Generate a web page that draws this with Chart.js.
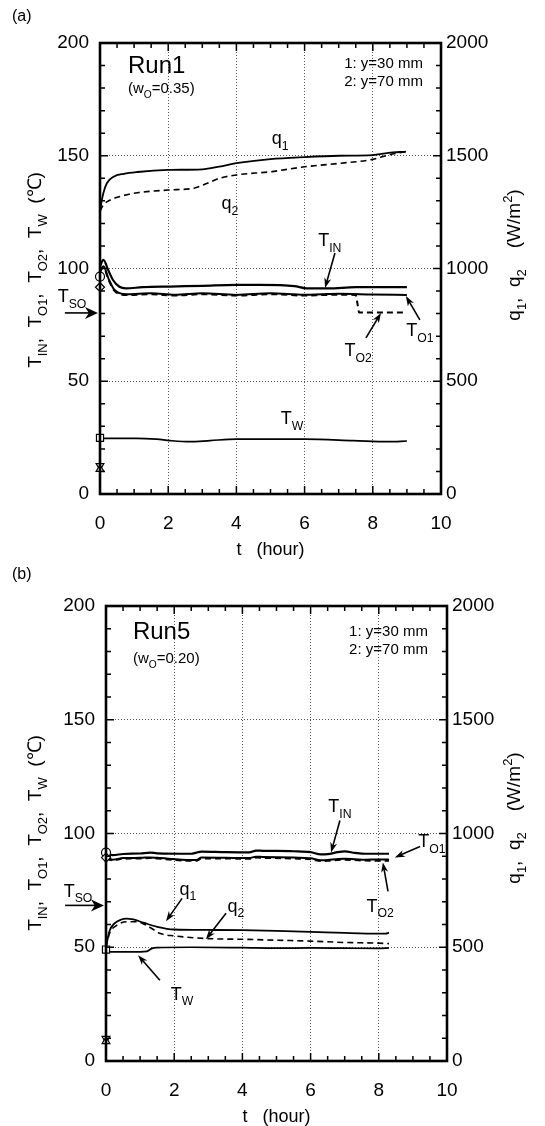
<!DOCTYPE html>
<html><head><meta charset="utf-8">
<script src="https://cdn.jsdelivr.net/npm/chart.js@4/dist/chart.umd.min.js"></script>
<style>
html,body{margin:0;padding:0;background:#fff;}
#wrap{position:relative;width:545px;height:1126px;overflow:hidden;background:#fff;}
.pan{position:absolute;left:0;width:545px;}
</style></head><body>
<div id="wrap">
<div class="pan" style="top:0;height:560px"><canvas id="ca"></canvas></div>
<div class="pan" style="top:560px;height:566px"><canvas id="cb"></canvas></div>
</div>
<script>
// ---------- tick values ----------
const xTickStep = 2, xMin = 0, xMax = 10;
const yLeftMin = 0, yLeftMax = 200, yLeftStep = 50;
const yRightMin = 0, yRightMax = 2000, yRightStep = 500;

// ---------- Panel (a) Run1 ----------
const a_t_q1 = [0, 0.05, 0.1, 0.2, 0.4, 0.7, 1.1, 2.0, 3.0, 3.5, 4.0, 5.0, 6.0, 7.0, 8.0, 8.45, 8.97];
const a_q1   = [1250, 1300, 1335, 1378, 1407, 1420, 1428, 1437, 1440, 1452, 1467, 1485, 1494, 1500, 1503, 1513, 1518];
const a_t_q2 = [0, 0.1, 0.3, 0.6, 1.1, 2.0, 2.75, 3.15, 3.5, 4.0, 5.0, 6.0, 7.0, 8.0, 8.45, 8.97];
const a_q2   = [1255, 1282, 1304, 1320, 1336, 1348, 1356, 1378, 1400, 1415, 1429, 1451, 1466, 1484, 1503, 1518];
const a_t_TIN = [0, 0.1, 0.24, 0.38, 0.57, 0.76, 1.25, 2.05, 3.0, 4.0, 4.7, 5.7, 6.05, 6.7, 7.5, 9.0];
const a_TIN   = [101, 103.8, 99.3, 94.9, 91.9, 91.2, 91.7, 92.0, 92.3, 92.7, 92.7, 92.2, 91.2, 91.2, 91.7, 91.7];
const a_t_TO1 = [0, 0.1, 0.25, 0.4, 0.55, 0.8, 1.5, 2.2, 3.0, 4.0, 5.0, 6.0, 6.5, 7.0, 8.0, 9.0];
const a_TO1   = [99, 101, 95.5, 91, 89.2, 88.6, 89.0, 88.4, 89.0, 88.3, 89.0, 88.4, 88.6, 88.8, 88.5, 88.3];
const a_t_TO2 = [0, 0.1, 0.25, 0.4, 0.55, 0.8, 1.5, 2.2, 3.0, 4.0, 5.0, 6.0, 6.5, 7.0, 7.5, 7.55, 7.6, 9.0];
const a_TO2   = [98.5, 100.5, 95, 90.5, 88.8, 88.2, 88.6, 88.0, 88.6, 88.0, 88.6, 88.0, 88.2, 88.4, 88.2, 84.5, 80.5, 80.5];
const a_t_TW = [0, 0.1, 1.07, 1.66, 2.05, 2.64, 3.23, 4.0, 6.0, 7.43, 8.46, 9.0];
const a_TW   = [24.8, 24.7, 24.7, 24.3, 23.7, 23.2, 23.7, 24.3, 24.3, 23.7, 23.2, 23.5];
// initial values at t=0: circle, diamond, square, triangle-down, triangle-up
const a_init = [96.4, 91.7, 24.9, 12.5, 11.0];

// ---------- Panel (b) Run5 ----------
const b_t_q1 = [0, 0.1, 0.25, 0.45, 0.6, 0.8, 1.1, 1.5, 2.0, 3.0, 4.0, 5.0, 6.0, 7.0, 8.0, 8.2, 8.3];
const b_q1   = [500, 570, 605, 622, 626, 622, 608, 590, 578, 576, 575, 572, 568, 563, 560, 560, 564];
const b_t_q2 = [0, 0.1, 0.3, 0.6, 0.9, 1.2, 1.6, 2.0, 3.0, 4.0, 5.0, 6.0, 7.0, 8.0, 8.3];
const b_q2   = [500, 560, 595, 612, 612, 595, 560, 550, 538, 535, 531, 527, 521, 518, 516];
const b_t_T  = [0, 0.2, 0.5, 1.0, 1.3, 1.5, 2.5, 2.65, 2.8, 3.5, 4.2, 4.4, 4.6, 5.5, 6.0, 6.3, 6.5, 6.8, 7.0, 7.3, 7.6, 8.0, 8.3];
const b_TIN  = [91.4, 90.5, 91.0, 91.2, 91.6, 91.3, 91.1, 91.6, 92.0, 91.8, 91.7, 92.5, 92.4, 92.2, 91.8, 90.8, 90.9, 91.8, 92.1, 91.5, 91.1, 91.1, 91.1];
const b_TO1  = [89.4, 88.5, 89.2, 89.3, 89.5, 89.3, 88.3, 88.3, 89.4, 89.3, 89.2, 89.8, 89.7, 89.4, 89.1, 88.2, 88.3, 88.8, 88.9, 88.7, 88.5, 88.6, 88.6];
const b_TO2  = [89.0, 88.2, 88.9, 89.0, 89.2, 89.0, 88.0, 88.0, 89.0, 89.0, 88.9, 89.4, 89.3, 89.0, 88.7, 87.9, 88.0, 88.4, 88.5, 88.3, 88.1, 88.0, 88.0];
const b_t_TW = [0, 0.1, 0.5, 1.0, 1.2, 1.35, 1.5, 2.5, 4.0, 5.0, 6.0, 7.0, 8.0, 8.3];
const b_TW   = [49.0, 48.0, 48.0, 48.0, 48.2, 49.5, 49.8, 50.0, 49.8, 49.6, 49.7, 49.6, 49.5, 49.7];
const b_init = [91.6, 89.4, 49.0, 9.8, 8.6];

// ---------- helpers ----------
const FONT = '"Liberation Sans", Arial, Helvetica, sans-serif';
Chart.defaults.font.family = FONT;
Chart.defaults.color = '#000';

function xy(ts, vs) { return ts.map((t, i) => ({ x: t, y: vs[i] })); }

function rich(ctx, parts, x, cy, size, align) {
  const sub = size * 0.68;
  let w = 0;
  parts.forEach(p => { ctx.font = (p[1] ? sub : size) + 'px ' + FONT; w += ctx.measureText(p[0]).width; });
  let cx = align === 'center' ? x - w / 2 : (align === 'right' ? x - w : x);
  const base = cy + size * 0.35;
  ctx.textAlign = 'left'; ctx.textBaseline = 'alphabetic'; ctx.fillStyle = '#000';
  parts.forEach(p => {
    ctx.font = (p[1] ? sub : size) + 'px ' + FONT;
    const dy = p[1] === 1 ? size * 0.32 : (p[1] === 2 ? -size * 0.42 : 0);
    ctx.fillText(p[0], cx, base + dy);
    cx += ctx.measureText(p[0]).width;
  });
}
function arrow(ctx, x1, y1, x2, y2, hl, hw) {
  hl = hl || 10; hw = hw || 3.5;
  const ang = Math.atan2(y2 - y1, x2 - x1);
  ctx.strokeStyle = '#000'; ctx.fillStyle = '#000'; ctx.lineWidth = 1.6; ctx.setLineDash([]);
  ctx.beginPath(); ctx.moveTo(x1, y1);
  ctx.lineTo(x2 - Math.cos(ang) * hl * 0.6, y2 - Math.sin(ang) * hl * 0.6); ctx.stroke();
  ctx.beginPath(); ctx.moveTo(x2, y2);
  ctx.lineTo(x2 - Math.cos(ang) * hl - Math.sin(ang) * hw, y2 - Math.sin(ang) * hl + Math.cos(ang) * hw);
  ctx.lineTo(x2 - Math.cos(ang) * hl * 0.7, y2 - Math.sin(ang) * hl * 0.7);
  ctx.lineTo(x2 - Math.cos(ang) * hl + Math.sin(ang) * hw, y2 - Math.sin(ang) * hl - Math.cos(ang) * hw);
  ctx.closePath(); ctx.fill();
}

const decor = {
  id: 'decor',
  afterDraw(chart, args, o) {
    const ctx = chart.ctx, a = chart.chartArea, x = chart.scales.x, y = chart.scales.y;
    ctx.save();
    ctx.setLineDash([]); ctx.strokeStyle = '#000'; ctx.lineWidth = 1.5;
    for (let i = 1; i < 20; i++) {
      const t = i * 0.5, px = x.getPixelForValue(t), len = (i % 4 === 0) ? 8 : 5;
      ctx.beginPath(); ctx.moveTo(px, a.bottom); ctx.lineTo(px, a.bottom - len);
      ctx.moveTo(px, a.top); ctx.lineTo(px, a.top + len); ctx.stroke();
    }
    for (let i = 1; i < 20; i++) {
      const v = i * 10, py = y.getPixelForValue(v), len = (i % 5 === 0) ? 8 : 5;
      ctx.beginPath(); ctx.moveTo(a.left, py); ctx.lineTo(a.left + len, py);
      ctx.moveTo(a.right, py); ctx.lineTo(a.right - len, py); ctx.stroke();
    }
    ctx.lineWidth = 2.6;
    ctx.strokeRect(a.left, a.top, a.right - a.left, a.bottom - a.top);
    // annotations (positions given in data units)
    o.texts.forEach(tx => {
      rich(ctx, tx.p, x.getPixelForValue(tx.t), y.getPixelForValue(tx.v), tx.s, tx.a || 'center');
    });
    o.arrows.forEach(ar => {
      arrow(ctx, x.getPixelForValue(ar[0]), y.getPixelForValue(ar[1]), x.getPixelForValue(ar[2]), y.getPixelForValue(ar[3]), ar[4], ar[5]);
    });
    // panel label
    rich(ctx, [[o.panel, 0]], 12, o.panelY, 16, 'left');
    // x title
    rich(ctx, [['t   (hour)', 0]], (a.left + a.right) / 2, a.bottom + 55, 18, 'center');
    // left title
    ctx.save(); ctx.translate(34, a.top + 227); ctx.rotate(-Math.PI / 2);
    rich(ctx, [['T', 0], ['IN', 1], [',  T', 0], ['O1', 1], [',  T', 0], ['O2', 1], [',  T', 0], ['W', 1], ['  (\u2103)', 0]], 0, 0, 19, 'center');
    ctx.restore();
    // right title
    ctx.save(); ctx.translate(513, a.top + 212); ctx.rotate(-Math.PI / 2);
    rich(ctx, [['q', 0], ['1', 1], [',  q', 0], ['2', 1], ['    (W/m', 0], ['2', 2], [')', 0]], 0, 0, 19, 'center');
    ctx.restore();
    ctx.restore();
  }
};

function lineDS(data, axis, width, dash) {
  return { data: data, yAxisID: axis, borderColor: '#000', backgroundColor: '#000', borderWidth: width,
    borderDash: dash || [], pointRadius: 0, fill: false, cubicInterpolationMode: 'monotone', clip: false };
}
function markerDS(vals) {
  return { data: xy(vals.map(() => 0), vals), yAxisID: 'y', showLine: false,
    pointStyle: ['circle', 'rectRot', 'rect', 'triangle', 'triangle'], rotation: [0, 0, 0, 180, 0],
    pointRadius: [4.5, 4.5, 5, 4.5, 4.5], borderWidth: 1.2, borderColor: '#000', backgroundColor: '#fff', clip: false };
}

function makePanel(id, H, areaTop, areaBottom, areaLeft, areaRight, datasets, deco) {
  return new Chart(document.getElementById(id), {
    type: 'line',
    data: { datasets: datasets },
    plugins: [decor],
    options: {
      responsive: true, maintainAspectRatio: false, animation: false,
      layout: { padding: { top: areaTop, left: 0, right: 0, bottom: 0 } },
      plugins: { legend: { display: false }, tooltip: { enabled: false }, decor: deco },
      scales: {
        x: { type: 'linear', min: xMin, max: xMax,
          ticks: { stepSize: xTickStep, font: { size: 19 }, padding: 18, maxRotation: 0, callback: v => String(v) },
          grid: { drawTicks: false, lineWidth: 1, color: c => (c.tick && (c.tick.value === xMin || c.tick.value === xMax)) ? 'rgba(0,0,0,0)' : '#555' },
          border: { display: false, dash: [1, 2] },
          afterFit: s => { s.height = H - areaBottom; } },
        y: { type: 'linear', position: 'left', min: yLeftMin, max: yLeftMax,
          ticks: { stepSize: yLeftStep, font: { size: 19 }, padding: 11, callback: v => String(v) },
          grid: { drawTicks: false, lineWidth: 1, color: c => (c.tick && (c.tick.value === yLeftMin || c.tick.value === yLeftMax)) ? 'rgba(0,0,0,0)' : '#555' },
          border: { display: false, dash: [1, 2] },
          afterFit: s => { s.width = areaLeft; } },
        y2: { type: 'linear', position: 'right', min: yRightMin, max: yRightMax,
          ticks: { stepSize: yRightStep, font: { size: 19 }, padding: 5, callback: v => String(v) },
          grid: { display: false, drawTicks: false }, border: { display: false },
          afterFit: s => { s.width = 545 - areaRight; } }
      }
    }
  });
}

// Panel (a)
makePanel('ca', 560, 43, 494, 100, 441, [
  markerDS(a_init),
  lineDS(xy(a_t_q1, a_q1), 'y2', 1.8),
  lineDS(xy(a_t_q2, a_q2), 'y2', 1.6, [6, 4]),
  lineDS(xy(a_t_TIN, a_TIN), 'y', 2.2),
  lineDS(xy(a_t_TO1, a_TO1), 'y', 2.0),
  lineDS(xy(a_t_TO2, a_TO2), 'y', 2.0, [6, 4]),
  lineDS(xy(a_t_TW, a_TW), 'y', 1.7)
], {
  panel: '(a)', panelY: 15,
  texts: [
    { p: [['Run1', 0]], t: 0.82, v: 190.2, s: 24, a: 'left' },
    { p: [['(w', 0], ['O', 1], ['=0.35)', 0]], t: 0.82, v: 180, s: 15, a: 'left' },
    { p: [['1: y=30 mm', 0]], t: 9.47, v: 191.1, s: 15, a: 'right' },
    { p: [['2: y=70 mm', 0]], t: 9.47, v: 183.1, s: 15, a: 'right' },
    { p: [['q', 0], ['1', 1]], t: 5.28, v: 157.9, s: 18 },
    { p: [['q', 0], ['2', 1]], t: 3.81, v: 129, s: 18 },
    { p: [['T', 0], ['IN', 1]], t: 6.74, v: 112.6, s: 18 },
    { p: [['T', 0], ['O2', 1]], t: 7.57, v: 63.9, s: 18 },
    { p: [['T', 0], ['O1', 1]], t: 9.38, v: 72.7, s: 18 },
    { p: [['T', 0], ['W', 1]], t: 5.63, v: 33.7, s: 18 },
    { p: [['T', 0], ['SO', 1]], t: -0.82, v: 87.8, s: 18 }
  ],
  arrows: [
    [6.89, 106.9, 6.6, 91.4],
    [7.8, 69.2, 8.24, 80.3],
    [9.38, 77.2, 8.97, 87.8],
    [-1.03, 80.3, -0.06, 80.3, 13, 6]
  ]
});

// Panel (b)
makePanel('cb', 566, 46, 501, 106, 447, [
  markerDS(b_init),
  lineDS(xy(b_t_q1, b_q1), 'y2', 1.8),
  lineDS(xy(b_t_q2, b_q2), 'y2', 1.6, [6, 4]),
  lineDS(xy(b_t_T, b_TIN), 'y', 2.2),
  lineDS(xy(b_t_T, b_TO1), 'y', 2.0),
  lineDS(xy(b_t_T, b_TO2), 'y', 2.0, [6, 4]),
  lineDS(xy(b_t_TW, b_TW), 'y', 1.7)
], {
  panel: '(b)', panelY: 13,
  texts: [
    { p: [['Run5', 0]], t: 0.79, v: 189, s: 24, a: 'left' },
    { p: [['(w', 0], ['O', 1], ['=0.20)', 0]], t: 0.79, v: 177.2, s: 15, a: 'left' },
    { p: [['1: y=30 mm', 0]], t: 9.44, v: 189, s: 15, a: 'right' },
    { p: [['2: y=70 mm', 0]], t: 9.44, v: 181.1, s: 15, a: 'right' },
    { p: [['T', 0], ['IN', 1]], t: 6.86, v: 112.3, s: 18 },
    { p: [['T', 0], ['O1', 1]], t: 9.56, v: 96.9, s: 18 },
    { p: [['T', 0], ['O2', 1]], t: 8.04, v: 68.4, s: 18 },
    { p: [['T', 0], ['SO', 1]], t: -0.82, v: 75, s: 18 },
    { p: [['q', 0], ['1', 1]], t: 2.4, v: 75.9, s: 18 },
    { p: [['q', 0], ['2', 1]], t: 3.81, v: 68.4, s: 18 },
    { p: [['T', 0], ['W', 1]], t: 2.23, v: 29.8, s: 18 }
  ],
  arrows: [
    [6.86, 105.7, 6.6, 91.7],
    [9.21, 94.3, 8.47, 89.5],
    [8.27, 74.6, 8.12, 87.3],
    [-1.2, 68.4, -0.06, 68.4, 13, 6],
    [2.23, 71.5, 1.76, 61.4],
    [3.52, 64.9, 2.93, 53.5],
    [1.58, 35.5, 0.94, 46.5]
  ]
});
</script>
</body></html>
